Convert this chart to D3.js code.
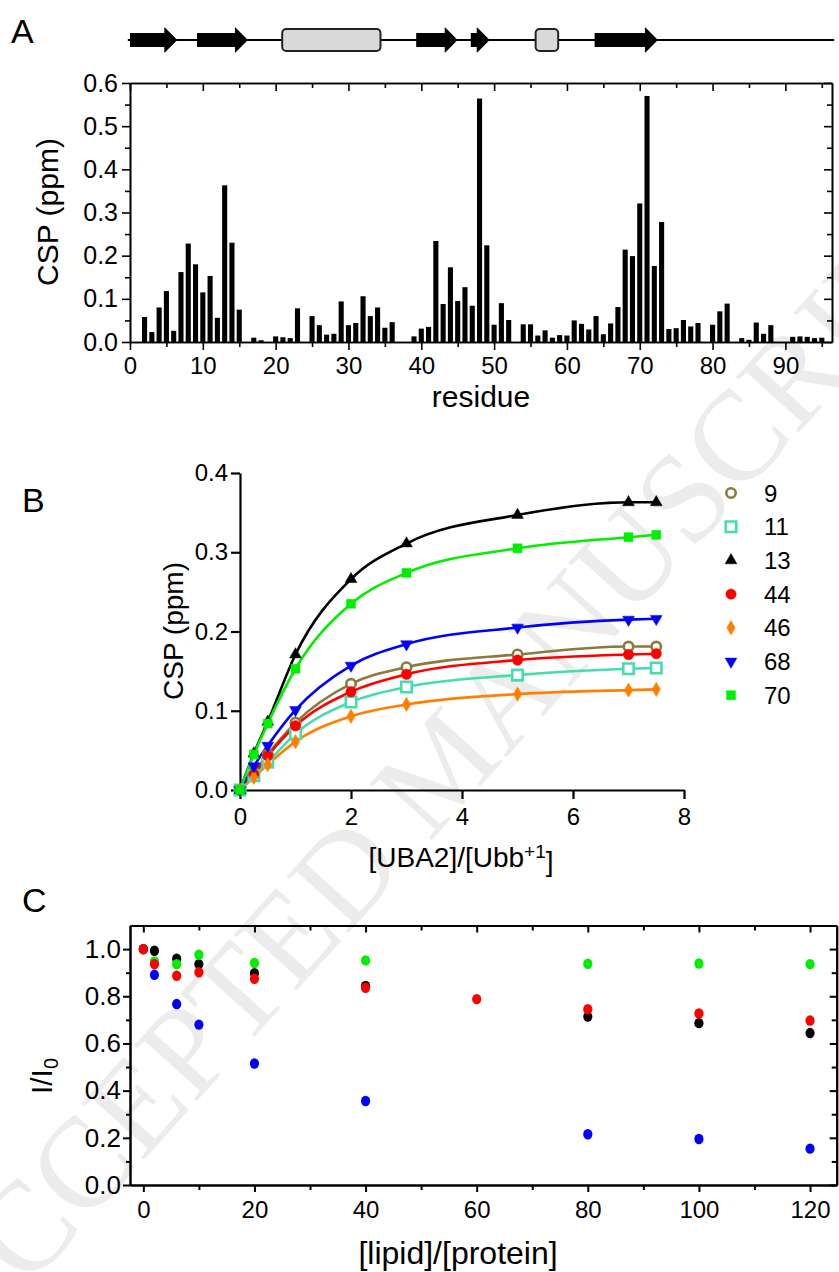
<!DOCTYPE html>
<meta charset="utf-8">
<style>
body { margin: 0; background: #fff; font-family: "Liberation Sans", Arial, sans-serif; }
.axis path, .axis line { stroke: #000; stroke-width: 1.6; fill: none; }
.axis text { fill: #000; font-family: "Liberation Sans", Arial, sans-serif; }
.tA .tick text { font-size: 25px; }
.tB .tick text { font-size: 24px; }
.tC .tick text { font-size: 24px; }
.title { font-family: "Liberation Sans", Arial, sans-serif; fill: #000; }
.letter { font-family: "Liberation Sans", Arial, sans-serif; font-size: 34px; fill: #000; }
</style>
<body>
<script src="https://d3js.org/d3.v7.min.js"></script>
<script>
// ---- panel A: chemical shift perturbation per residue
var residues = [2,3,4,5,6,7,8,9,10,11,12,13,14,15,17,18,20,21,22,23,25,26,27,28,29,30,31,32,33,34,35,36,
  39,40,41,42,43,44,45,46,47,48,49,50,51,52,54,55,56,57,58,59,60,61,62,63,64,65,66,67,68,69,70,71,72,73,
  74,75,76,77,78,80,81,82,84,85,86,87,88,91,92,93,94,95];
var cspValues = [.058,.023,.080,.118,.026,.162,.228,.180,.115,.153,.056,.363,.230,.075,.010,.004,.013,.011,.009,.078,
  .060,.039,.017,.019,.094,.039,.044,.106,.060,.080,.033,.046,
  .013,.031,.035,.234,.088,.173,.095,.127,.084,.564,.224,.040,.090,.051,.041,.041,.015,.027,.010,.016,.015,.050,
  .042,.029,.060,.018,.043,.081,.214,.199,.321,.570,.176,.278,
  .030,.032,.051,.036,.044,.040,.071,.089,.009,.005,.045,.019,.039,.012,.013,.012,.009,.010];
// secondary structure (residue ranges)
var strands = [[0, 6.5], [9.2, 16.2], [39.3, 45], [46.8, 49.4], [63.8, 72.5]];
var helices = [[20.9, 34.4], [55.7, 58.8]];

// ---- panel B: titration
var ratioB = [0, 0.25, 0.5, 1, 2, 3, 5, 7, 7.5];
var res9  = [0, .022, .045, .085, .134, .155, .171, .181, .181];
var res11 = [0, .018, .035, .071, .111, .130, .145, .153, .154];
var res13 = [0, .046, .086, .171, .266, .311, .347, .363, .363];
var res44 = [0, .020, .043, .081, .124, .146, .164, .171, .172];
var res46 = [0, .016, .032, .061, .093, .108, .121, .126, .127];
var res68 = [0, .030, .056, .101, .157, .184, .205, .215, .216];
var res70 = [0, .045, .084, .153, .235, .274, .305, .319, .322];
var labelsB = ["9", "11", "13", "44", "46", "68", "70"];

// ---- panel C: intensity ratio vs lipid
var lipidRatio = [0, 2, 6, 10, 20, 40, 60, 80, 100, 120];
var blackI = [1.0, .993, .959, .936, .898, .844, null, .714, .686, .644];
var greenI = [1.0, .948, .936, .976, .941, .952, null, .938, .939, .936];
var blueI  = [1.0, .891, .767, .680, .515, .356, null, .215, .195, .154];
var redI   = [1.0, .936, .887, .902, .874, .836, .788, .745, .727, .697];

var W = 839, H = 1272;
var svg = d3.select("body").append("svg").attr("width", W).attr("height", H);

// watermark
svg.append("text")
  .attr("transform", "translate(440,764) rotate(-48)")
  .attr("text-anchor", "middle")
  .attr("dy", "0.35em")
  .style("font-family", "'Liberation Serif', 'DejaVu Serif', serif")
  .style("font-size", "128px")
  .style("fill", "#ececec")
  .text("ACCEPTED MANUSCRIPT");

function addAxis(gen, tr, cls) {
  return svg.append("g").attr("class", "axis " + cls).attr("transform", tr).call(gen);
}

// ================= A =================
var xA = d3.scaleLinear().domain([0, 96.4]).range([130, 832]);
var yA = d3.scaleLinear().domain([0, 0.6]).range([342, 83]);

svg.append("g").selectAll("rect")
  .data(residues)
  .enter().append("rect")
  .attr("x", function(d) { return xA(d - 0.35); })
  .attr("width", xA(0.7) - xA(0))
  .attr("y", function(d, i) { return yA(cspValues[i]); })
  .attr("height", function(d, i) { return yA(0) - yA(cspValues[i]); })
  .attr("fill", "#000");

var majA = d3.range(0, 100, 10), minA = d3.range(5, 100, 10);
var yMajA = d3.range(0, 0.61, 0.1), yMinA = d3.range(0.05, 0.6, 0.1);
addAxis(d3.axisBottom(xA).tickValues(minA).tickSize(5).tickSizeOuter(0).tickFormat(""), "translate(0,342)", "tA");
addAxis(d3.axisBottom(xA).tickValues(majA).tickSize(8).tickSizeOuter(0).tickPadding(7), "translate(0,342)", "tA xA");
addAxis(d3.axisTop(xA).tickValues(minA).tickSize(-5).tickSizeOuter(0).tickFormat(""), "translate(0,83)", "tA");
addAxis(d3.axisTop(xA).tickValues(majA).tickSize(-8).tickSizeOuter(0).tickFormat(""), "translate(0,83)", "tA");
addAxis(d3.axisLeft(yA).tickValues(yMinA).tickSize(5).tickSizeOuter(0).tickFormat(""), "translate(130,0)", "tA");
addAxis(d3.axisLeft(yA).tickValues(yMajA).tickSize(8).tickSizeOuter(0).tickPadding(4).tickFormat(d3.format(".1f")), "translate(130,0)", "tA");
addAxis(d3.axisRight(yA).tickValues(yMinA).tickSize(-5).tickSizeOuter(0).tickFormat(""), "translate(832,0)", "tA");
addAxis(d3.axisRight(yA).tickValues(yMajA).tickSize(-8).tickSizeOuter(0).tickFormat(""), "translate(832,0)", "tA");
svg.selectAll(".xA .tick text").style("font-size", "24px");

svg.append("text").attr("class", "title").attr("x", 481).attr("y", 407)
  .attr("text-anchor", "middle").style("font-size", "30px").text("residue");
svg.append("text").attr("class", "title")
  .attr("transform", "translate(58,212) rotate(-90)")
  .attr("text-anchor", "middle").style("font-size", "30px").text("CSP (ppm)");
svg.append("text").attr("class", "letter").attr("x", 11).attr("y", 43).text("A");

// topology cartoon
var topoY = 40;
svg.append("line").attr("x1", xA(-0.3)).attr("x2", xA(96.7))
  .attr("y1", topoY).attr("y2", topoY).attr("stroke", "#000").attr("stroke-width", 2);
svg.append("g").selectAll("path")
  .data(strands)
  .enter().append("path")
  .attr("d", function(d) {
    var x0 = xA(d[0]), x1 = xA(d[1]), hx = x1 - 13;
    return "M" + x0 + "," + (topoY - 7) + "L" + hx + "," + (topoY - 7) + "L" + hx + "," + (topoY - 13) +
      "L" + x1 + "," + topoY + "L" + hx + "," + (topoY + 13) + "L" + hx + "," + (topoY + 7) +
      "L" + x0 + "," + (topoY + 7) + "Z";
  })
  .attr("fill", "#000");
svg.append("g").selectAll("rect")
  .data(helices)
  .enter().append("rect")
  .attr("x", function(d) { return xA(d[0]); })
  .attr("width", function(d) { return xA(d[1]) - xA(d[0]); })
  .attr("y", topoY - 11).attr("height", 22).attr("rx", 4)
  .attr("fill", "#d9d9d9").attr("stroke", "#222").attr("stroke-width", 2);

// ================= B =================
var xB = d3.scaleLinear().domain([0, 8]).range([240, 684]);
var yB = d3.scaleLinear().domain([0, 0.4]).range([790, 473]);

addAxis(d3.axisBottom(xB).tickValues([0, 2, 4, 6, 8]).tickSize(9).tickSizeOuter(0).tickPadding(9), "translate(0,790)", "tB");
addAxis(d3.axisLeft(yB).tickValues([0, 0.1, 0.2, 0.3, 0.4]).tickSize(9).tickSizeOuter(0).tickPadding(3).tickFormat(d3.format(".1f")), "translate(240,0)", "tB");
svg.selectAll(".tB path, .tB line").style("stroke-width", 2.2);

var seriesB = [
  { name: "9",  vals: res9,  color: "#8a7a3c", sym: d3.symbolCircle,   size: 70,  open: true },
  { name: "11", vals: res11, color: "#46dcb2", sym: d3.symbolSquare,   size: 110, open: true },
  { name: "13", vals: res13, color: "#000000", sym: d3.symbolTriangle, size: 60,  open: false },
  { name: "44", vals: res44, color: "#ff0000", sym: d3.symbolCircle,   size: 85,  open: false },
  { name: "46", vals: res46, color: "#ff8000", sym: d3.symbolDiamond,  size: 60,  open: false },
  { name: "68", vals: res68, color: "#0000ff", sym: d3.symbolTriangle, size: 60,  open: false, flip: true },
  { name: "70", vals: res70, color: "#00ee00", sym: d3.symbolSquare,   size: 80,  open: false }
];

var lineB = d3.line()
  .x(function(d, i) { return xB(ratioB[i]); })
  .y(function(d) { return yB(d); })
  .curve(d3.curveMonotoneX);

seriesB.forEach(function(s) {
  svg.append("path").attr("d", lineB(s.vals))
    .attr("fill", "none").attr("stroke", s.color).attr("stroke-width", 2.6);
});

function drawSym(g, s, x, y) {
  g.append("path")
    .attr("d", d3.symbol().type(s.sym).size(s.size)())
    .attr("transform", "translate(" + x + "," + y + ")" + (s.flip ? " rotate(180)" : ""))
    .attr("fill", s.open ? "#fff" : s.color)
    .attr("stroke", s.color)
    .attr("stroke-width", s.open ? 2.6 : 0.5);
}

seriesB.forEach(function(s) {
  var g = svg.append("g");
  s.vals.forEach(function(v, i) { drawSym(g, s, xB(ratioB[i]), yB(v)); });
});

var legB = svg.append("g");
seriesB.forEach(function(s, i) {
  var ly = 493 + i * 33.7;
  drawSym(legB, s, 731, ly);
  legB.append("text").attr("x", 764).attr("y", ly).attr("dy", "0.36em")
    .attr("class", "title").style("font-size", "24px").text(labelsB[i]);
});

var tB = svg.append("text").attr("class", "title").attr("x", 461).attr("y", 867)
  .attr("text-anchor", "middle").style("font-size", "28px");
tB.append("tspan").text("[UBA2]/[Ubb");
tB.append("tspan").attr("dy", "-0.45em").style("font-size", "19px").text("+1");
tB.append("tspan").attr("dy", "0.45em").text("]");
svg.append("text").attr("class", "title")
  .attr("transform", "translate(183,631) rotate(-90)")
  .attr("text-anchor", "middle").style("font-size", "28px").text("CSP (ppm)");
svg.append("text").attr("class", "letter").attr("x", 22).attr("y", 512).text("B");

// ================= C =================
var xC = d3.scaleLinear().domain([-2.4, 124.8]).range([130, 836.7]);
var yC = d3.scaleLinear().domain([0, 1.1]).range([1185, 925.5]);

var majC = d3.range(0, 121, 20), minC = d3.range(10, 121, 20);
var yMajC = d3.range(0, 1.01, 0.2), yMinC = d3.range(0.1, 1.1, 0.2);
addAxis(d3.axisBottom(xC).tickValues(minC).tickSize(5).tickSizeOuter(0).tickFormat(""), "translate(0,1185)", "tC");
addAxis(d3.axisBottom(xC).tickValues(majC).tickSize(7).tickSizeOuter(0).tickPadding(9), "translate(0,1185)", "tC");
addAxis(d3.axisTop(xC).tickValues(minC).tickSize(-5).tickSizeOuter(0).tickFormat(""), "translate(0,925.5)", "tC");
addAxis(d3.axisTop(xC).tickValues(majC).tickSize(-7).tickSizeOuter(0).tickFormat(""), "translate(0,925.5)", "tC");
addAxis(d3.axisLeft(yC).tickValues(yMinC).tickSize(4).tickSizeOuter(0).tickFormat(""), "translate(130,0)", "tC");
addAxis(d3.axisLeft(yC).tickValues(yMajC).tickSize(7).tickSizeOuter(0).tickPadding(2).tickFormat(d3.format(".1f")), "translate(130,0)", "tC yC");
addAxis(d3.axisRight(yC).tickValues(yMinC).tickSize(-5).tickSizeOuter(0).tickFormat(""), "translate(836.7,0)", "tC");
addAxis(d3.axisRight(yC).tickValues(yMajC).tickSize(-7).tickSizeOuter(0).tickFormat(""), "translate(836.7,0)", "tC");
svg.selectAll(".tC path, .tC line").style("stroke-width", 2);
svg.selectAll(".yC .tick text").style("font-size", "26px");

var seriesC = [
  { vals: blackI, color: "#000000" },
  { vals: greenI, color: "#00ee00" },
  { vals: blueI,  color: "#0000ff" },
  { vals: redI,   color: "#ff0000" }
];
seriesC.forEach(function(s) {
  svg.append("g").selectAll("ellipse")
    .data(lipidRatio.filter(function(d, i) { return s.vals[i] !== null; }))
    .enter().append("ellipse")
    .attr("cx", function(d) { return xC(d); })
    .attr("cy", function(d) { return yC(s.vals[lipidRatio.indexOf(d)]); })
    .attr("rx", 4.6).attr("ry", 5.2)
    .attr("fill", s.color);
});

svg.append("text").attr("class", "title").attr("x", 458).attr("y", 1264)
  .attr("text-anchor", "middle").style("font-size", "32px").text("[lipid]/[protein]");
var tC = svg.append("text").attr("class", "title")
  .attr("transform", "translate(52,1076) rotate(-90)")
  .attr("text-anchor", "middle").style("font-size", "30px");
tC.append("tspan").text("I/I");
tC.append("tspan").attr("dy", "0.3em").style("font-size", "20px").text("0");
svg.append("text").attr("class", "letter").attr("x", 22).attr("y", 912).text("C");
</script>
